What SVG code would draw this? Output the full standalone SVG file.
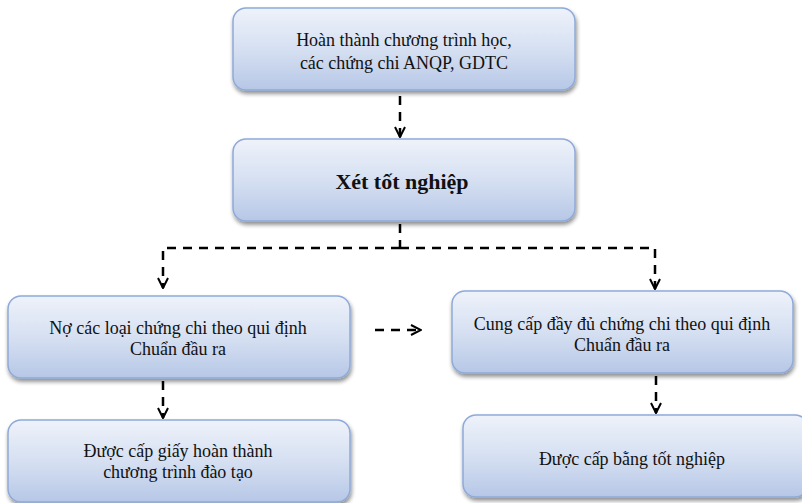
<svg xmlns="http://www.w3.org/2000/svg" width="802" height="503" viewBox="0 0 802 503">
<defs>
<linearGradient id="g" x1="0" y1="0" x2="0" y2="1">
<stop offset="0" stop-color="#eef2fa"/>
<stop offset="0.5" stop-color="#d6e0f2"/>
<stop offset="1" stop-color="#b6c7e6"/>
</linearGradient>
<filter id="sh" x="-5%" y="-5%" width="115%" height="125%">
<feGaussianBlur in="SourceAlpha" stdDeviation="2"/>
<feOffset dx="1" dy="3" result="b"/>
<feComponentTransfer><feFuncA type="linear" slope="0.45"/></feComponentTransfer>
<feMerge><feMergeNode/><feMergeNode in="SourceGraphic"/></feMerge>
</filter>
<marker id="ah" viewBox="0 0 12 12" refX="11" refY="6" markerWidth="12" markerHeight="12" markerUnits="userSpaceOnUse" orient="auto">
<path d="M1,1 L11,6 L1,11" fill="none" stroke="#000" stroke-width="2"/>
</marker>
</defs>
<style>
.box{fill:url(#g);stroke:#8eaad8;stroke-width:1.5;filter:url(#sh)}
.t{font-family:"Liberation Serif","Times New Roman",serif;font-size:18px;fill:#111;text-anchor:middle}
.b{font-weight:bold;font-size:22px}
.c{fill:none;stroke:#000;stroke-width:2.5;stroke-dasharray:9,7}
</style>
<rect width="802" height="503" fill="#fff"/>
<g id="n1"><rect class="box" x="233" y="8" width="342" height="82" rx="13"/>
<text class="t" x="404" y="46">Hoàn thành chương trình học,</text>
<text class="t" x="404" y="69">các chứng chi ANQP, GDTC</text></g>
<g id="n2"><rect class="box" x="233" y="139" width="342" height="82" rx="13"/>
<text class="t b" x="402" y="189">Xét tốt nghiệp</text></g>
<g id="n3"><rect class="box" x="8" y="296" width="342" height="82" rx="13"/>
<text class="t" x="178" y="334">Nợ các loại chứng chi theo qui định</text>
<text class="t" x="178" y="355">Chuẩn đầu ra</text></g>
<g id="n4"><rect class="box" x="8" y="420" width="342" height="82" rx="13"/>
<text class="t" x="178" y="457">Được cấp giấy hoàn thành</text>
<text class="t" x="178" y="478">chương trình đào tạo</text></g>
<g id="n5"><rect class="box" x="452" y="291" width="341" height="82" rx="13"/>
<text class="t" x="622" y="330">Cung cấp đầy đủ chứng chi theo qui định</text>
<text class="t" x="622" y="351">Chuẩn đầu ra</text></g>
<g id="n6"><rect class="box" x="463" y="415" width="345" height="82" rx="13"/>
<text class="t" x="632" y="465">Được cấp bằng tốt nghiệp</text></g>
<g id="connectors">
<path class="c" d="M400,96 V137" marker-end="url(#ah)"/>
<path class="c" d="M400,224 V248 M400,248 H163 V288" marker-end="url(#ah)"/>
<path class="c" d="M400,248 H655 V289" marker-end="url(#ah)"/>
<path class="c" d="M163,381 V418" marker-end="url(#ah)"/>
<path class="c" d="M656,376 V413" marker-end="url(#ah)"/>
<path class="c" d="M375,330 H421" marker-end="url(#ah)"/>
</g>
</svg>
